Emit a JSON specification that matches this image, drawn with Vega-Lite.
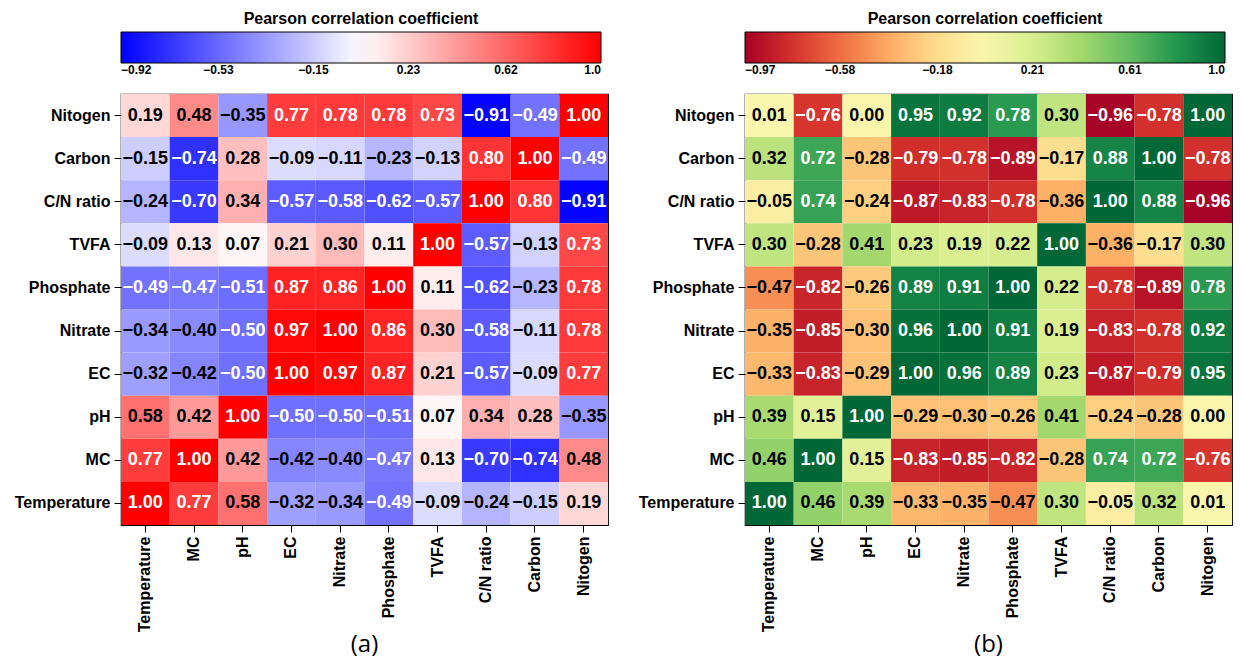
{
"$schema": "https://vega.github.io/schema/vega-lite/v6.json",
"background": "white",
"padding": {"left": 13, "top": 10, "right": 5, "bottom": 0},
"resolve": {"scale": {"color": "independent"}, "legend": {"color": "independent"}},
"config": {
  "font": "Liberation Sans",
  "view": {"stroke": "black", "strokeWidth": 1.2},
  "concat": {"spacing": 28},
  "axis": {"labelFont": "Liberation Sans", "labelFontSize": 16, "labelFontWeight": "bold", "labelColor": "black", "tickColor": "black", "tickSize": 7, "tickWidth": 1, "domain": false, "title": null, "labelPadding": 4},
  "legend": {"orient": "top", "direction": "horizontal", "gradientLength": 480, "gradientThickness": 31, "titleFont": "Liberation Sans", "titleFontSize": 16, "titleFontWeight": "bold", "titleColor": "black", "titleAnchor": "middle", "titlePadding": 5, "titleLimit": 600, "labelFont": "Liberation Sans", "labelFontSize": 12, "labelFontWeight": "bold", "labelColor": "black", "labelAlign": "center", "labelOffset": 18, "offset": 18, "gradientStrokeColor": "black", "gradientStrokeWidth": 1},
  "title": {"orient": "bottom", "anchor": "middle", "font": "Open Sans", "fontSize": 24, "fontWeight": "normal", "color": "black", "offset": 1}
},
"datasets": {
"a": [
{"y":"Nitogen","x":"Temperature","r":0.19},{"y":"Nitogen","x":"MC","r":0.48},{"y":"Nitogen","x":"pH","r":-0.35},{"y":"Nitogen","x":"EC","r":0.77},{"y":"Nitogen","x":"Nitrate","r":0.78},{"y":"Nitogen","x":"Phosphate","r":0.78},{"y":"Nitogen","x":"TVFA","r":0.73},{"y":"Nitogen","x":"C/N ratio","r":-0.91},{"y":"Nitogen","x":"Carbon","r":-0.49},{"y":"Nitogen","x":"Nitogen","r":1.00},
{"y":"Carbon","x":"Temperature","r":-0.15},{"y":"Carbon","x":"MC","r":-0.74},{"y":"Carbon","x":"pH","r":0.28},{"y":"Carbon","x":"EC","r":-0.09},{"y":"Carbon","x":"Nitrate","r":-0.11},{"y":"Carbon","x":"Phosphate","r":-0.23},{"y":"Carbon","x":"TVFA","r":-0.13},{"y":"Carbon","x":"C/N ratio","r":0.80},{"y":"Carbon","x":"Carbon","r":1.00},{"y":"Carbon","x":"Nitogen","r":-0.49},
{"y":"C/N ratio","x":"Temperature","r":-0.24},{"y":"C/N ratio","x":"MC","r":-0.70},{"y":"C/N ratio","x":"pH","r":0.34},{"y":"C/N ratio","x":"EC","r":-0.57},{"y":"C/N ratio","x":"Nitrate","r":-0.58},{"y":"C/N ratio","x":"Phosphate","r":-0.62},{"y":"C/N ratio","x":"TVFA","r":-0.57},{"y":"C/N ratio","x":"C/N ratio","r":1.00},{"y":"C/N ratio","x":"Carbon","r":0.80},{"y":"C/N ratio","x":"Nitogen","r":-0.91},
{"y":"TVFA","x":"Temperature","r":-0.09},{"y":"TVFA","x":"MC","r":0.13},{"y":"TVFA","x":"pH","r":0.07},{"y":"TVFA","x":"EC","r":0.21},{"y":"TVFA","x":"Nitrate","r":0.30},{"y":"TVFA","x":"Phosphate","r":0.11},{"y":"TVFA","x":"TVFA","r":1.00},{"y":"TVFA","x":"C/N ratio","r":-0.57},{"y":"TVFA","x":"Carbon","r":-0.13},{"y":"TVFA","x":"Nitogen","r":0.73},
{"y":"Phosphate","x":"Temperature","r":-0.49},{"y":"Phosphate","x":"MC","r":-0.47},{"y":"Phosphate","x":"pH","r":-0.51},{"y":"Phosphate","x":"EC","r":0.87},{"y":"Phosphate","x":"Nitrate","r":0.86},{"y":"Phosphate","x":"Phosphate","r":1.00},{"y":"Phosphate","x":"TVFA","r":0.11},{"y":"Phosphate","x":"C/N ratio","r":-0.62},{"y":"Phosphate","x":"Carbon","r":-0.23},{"y":"Phosphate","x":"Nitogen","r":0.78},
{"y":"Nitrate","x":"Temperature","r":-0.34},{"y":"Nitrate","x":"MC","r":-0.40},{"y":"Nitrate","x":"pH","r":-0.50},{"y":"Nitrate","x":"EC","r":0.97},{"y":"Nitrate","x":"Nitrate","r":1.00},{"y":"Nitrate","x":"Phosphate","r":0.86},{"y":"Nitrate","x":"TVFA","r":0.30},{"y":"Nitrate","x":"C/N ratio","r":-0.58},{"y":"Nitrate","x":"Carbon","r":-0.11},{"y":"Nitrate","x":"Nitogen","r":0.78},
{"y":"EC","x":"Temperature","r":-0.32},{"y":"EC","x":"MC","r":-0.42},{"y":"EC","x":"pH","r":-0.50},{"y":"EC","x":"EC","r":1.00},{"y":"EC","x":"Nitrate","r":0.97},{"y":"EC","x":"Phosphate","r":0.87},{"y":"EC","x":"TVFA","r":0.21},{"y":"EC","x":"C/N ratio","r":-0.57},{"y":"EC","x":"Carbon","r":-0.09},{"y":"EC","x":"Nitogen","r":0.77},
{"y":"pH","x":"Temperature","r":0.58},{"y":"pH","x":"MC","r":0.42},{"y":"pH","x":"pH","r":1.00},{"y":"pH","x":"EC","r":-0.50},{"y":"pH","x":"Nitrate","r":-0.50},{"y":"pH","x":"Phosphate","r":-0.51},{"y":"pH","x":"TVFA","r":0.07},{"y":"pH","x":"C/N ratio","r":0.34},{"y":"pH","x":"Carbon","r":0.28},{"y":"pH","x":"Nitogen","r":-0.35},
{"y":"MC","x":"Temperature","r":0.77},{"y":"MC","x":"MC","r":1.00},{"y":"MC","x":"pH","r":0.42},{"y":"MC","x":"EC","r":-0.42},{"y":"MC","x":"Nitrate","r":-0.40},{"y":"MC","x":"Phosphate","r":-0.47},{"y":"MC","x":"TVFA","r":0.13},{"y":"MC","x":"C/N ratio","r":-0.70},{"y":"MC","x":"Carbon","r":-0.74},{"y":"MC","x":"Nitogen","r":0.48},
{"y":"Temperature","x":"Temperature","r":1.00},{"y":"Temperature","x":"MC","r":0.77},{"y":"Temperature","x":"pH","r":0.58},{"y":"Temperature","x":"EC","r":-0.32},{"y":"Temperature","x":"Nitrate","r":-0.34},{"y":"Temperature","x":"Phosphate","r":-0.49},{"y":"Temperature","x":"TVFA","r":-0.09},{"y":"Temperature","x":"C/N ratio","r":-0.24},{"y":"Temperature","x":"Carbon","r":-0.15},{"y":"Temperature","x":"Nitogen","r":0.19}
],
"b": [
{"y":"Nitogen","x":"Temperature","r":0.01},{"y":"Nitogen","x":"MC","r":-0.76},{"y":"Nitogen","x":"pH","r":0.00},{"y":"Nitogen","x":"EC","r":0.95},{"y":"Nitogen","x":"Nitrate","r":0.92},{"y":"Nitogen","x":"Phosphate","r":0.78},{"y":"Nitogen","x":"TVFA","r":0.30},{"y":"Nitogen","x":"C/N ratio","r":-0.96},{"y":"Nitogen","x":"Carbon","r":-0.78},{"y":"Nitogen","x":"Nitogen","r":1.00},
{"y":"Carbon","x":"Temperature","r":0.32},{"y":"Carbon","x":"MC","r":0.72},{"y":"Carbon","x":"pH","r":-0.28},{"y":"Carbon","x":"EC","r":-0.79},{"y":"Carbon","x":"Nitrate","r":-0.78},{"y":"Carbon","x":"Phosphate","r":-0.89},{"y":"Carbon","x":"TVFA","r":-0.17},{"y":"Carbon","x":"C/N ratio","r":0.88},{"y":"Carbon","x":"Carbon","r":1.00},{"y":"Carbon","x":"Nitogen","r":-0.78},
{"y":"C/N ratio","x":"Temperature","r":-0.05},{"y":"C/N ratio","x":"MC","r":0.74},{"y":"C/N ratio","x":"pH","r":-0.24},{"y":"C/N ratio","x":"EC","r":-0.87},{"y":"C/N ratio","x":"Nitrate","r":-0.83},{"y":"C/N ratio","x":"Phosphate","r":-0.78},{"y":"C/N ratio","x":"TVFA","r":-0.36},{"y":"C/N ratio","x":"C/N ratio","r":1.00},{"y":"C/N ratio","x":"Carbon","r":0.88},{"y":"C/N ratio","x":"Nitogen","r":-0.96},
{"y":"TVFA","x":"Temperature","r":0.30},{"y":"TVFA","x":"MC","r":-0.28},{"y":"TVFA","x":"pH","r":0.41},{"y":"TVFA","x":"EC","r":0.23},{"y":"TVFA","x":"Nitrate","r":0.19},{"y":"TVFA","x":"Phosphate","r":0.22},{"y":"TVFA","x":"TVFA","r":1.00},{"y":"TVFA","x":"C/N ratio","r":-0.36},{"y":"TVFA","x":"Carbon","r":-0.17},{"y":"TVFA","x":"Nitogen","r":0.30},
{"y":"Phosphate","x":"Temperature","r":-0.47},{"y":"Phosphate","x":"MC","r":-0.82},{"y":"Phosphate","x":"pH","r":-0.26},{"y":"Phosphate","x":"EC","r":0.89},{"y":"Phosphate","x":"Nitrate","r":0.91},{"y":"Phosphate","x":"Phosphate","r":1.00},{"y":"Phosphate","x":"TVFA","r":0.22},{"y":"Phosphate","x":"C/N ratio","r":-0.78},{"y":"Phosphate","x":"Carbon","r":-0.89},{"y":"Phosphate","x":"Nitogen","r":0.78},
{"y":"Nitrate","x":"Temperature","r":-0.35},{"y":"Nitrate","x":"MC","r":-0.85},{"y":"Nitrate","x":"pH","r":-0.30},{"y":"Nitrate","x":"EC","r":0.96},{"y":"Nitrate","x":"Nitrate","r":1.00},{"y":"Nitrate","x":"Phosphate","r":0.91},{"y":"Nitrate","x":"TVFA","r":0.19},{"y":"Nitrate","x":"C/N ratio","r":-0.83},{"y":"Nitrate","x":"Carbon","r":-0.78},{"y":"Nitrate","x":"Nitogen","r":0.92},
{"y":"EC","x":"Temperature","r":-0.33},{"y":"EC","x":"MC","r":-0.83},{"y":"EC","x":"pH","r":-0.29},{"y":"EC","x":"EC","r":1.00},{"y":"EC","x":"Nitrate","r":0.96},{"y":"EC","x":"Phosphate","r":0.89},{"y":"EC","x":"TVFA","r":0.23},{"y":"EC","x":"C/N ratio","r":-0.87},{"y":"EC","x":"Carbon","r":-0.79},{"y":"EC","x":"Nitogen","r":0.95},
{"y":"pH","x":"Temperature","r":0.39},{"y":"pH","x":"MC","r":0.15},{"y":"pH","x":"pH","r":1.00},{"y":"pH","x":"EC","r":-0.29},{"y":"pH","x":"Nitrate","r":-0.30},{"y":"pH","x":"Phosphate","r":-0.26},{"y":"pH","x":"TVFA","r":0.41},{"y":"pH","x":"C/N ratio","r":-0.24},{"y":"pH","x":"Carbon","r":-0.28},{"y":"pH","x":"Nitogen","r":0.00},
{"y":"MC","x":"Temperature","r":0.46},{"y":"MC","x":"MC","r":1.00},{"y":"MC","x":"pH","r":0.15},{"y":"MC","x":"EC","r":-0.83},{"y":"MC","x":"Nitrate","r":-0.85},{"y":"MC","x":"Phosphate","r":-0.82},{"y":"MC","x":"TVFA","r":-0.28},{"y":"MC","x":"C/N ratio","r":0.74},{"y":"MC","x":"Carbon","r":0.72},{"y":"MC","x":"Nitogen","r":-0.76},
{"y":"Temperature","x":"Temperature","r":1.00},{"y":"Temperature","x":"MC","r":0.46},{"y":"Temperature","x":"pH","r":0.39},{"y":"Temperature","x":"EC","r":-0.33},{"y":"Temperature","x":"Nitrate","r":-0.35},{"y":"Temperature","x":"Phosphate","r":-0.47},{"y":"Temperature","x":"TVFA","r":0.30},{"y":"Temperature","x":"C/N ratio","r":-0.05},{"y":"Temperature","x":"Carbon","r":0.32},{"y":"Temperature","x":"Nitogen","r":0.01}
]
},
"hconcat": [
{
  "width": 487, "height": 431,
  "data": {"name": "a"},
  "title": {"text": "(a)"},
  "encoding": {
    "x": {"field": "x", "type": "nominal", "sort": ["Temperature","MC","pH","EC","Nitrate","Phosphate","TVFA","C/N ratio","Carbon","Nitogen"], "axis": {"labelAngle": -90, "title": null}},
    "y": {"field": "y", "type": "nominal", "sort": ["Nitogen","Carbon","C/N ratio","TVFA","Phosphate","Nitrate","EC","pH","MC","Temperature"], "axis": {"title": null}}
  },
  "layer": [
    {"mark": {"type": "rect"},
     "encoding": {"color": {"field": "r", "type": "quantitative",
        "scale": {"domain": [-0.92, 1.0], "range": ["#0000ff", "#ffffff", "#ff0000"], "interpolate": "rgb", "nice": false, "zero": false},
        "legend": {"title": "Pearson correlation coefficient", "values": [-0.92, -0.53, -0.15, 0.23, 0.62, 1.0], "labelExpr": "datum.value >= 0.999 ? '1.0' : format(datum.value, '.2f')"}}}},
    {"mark": {"type": "text", "fontSize": 18, "fontWeight": "bold", "font": "Liberation Sans"},
     "encoding": {"text": {"field": "r", "type": "quantitative", "format": ".2f"},
        "color": {"condition": {"test": "datum.r >= 0.65 || datum.r <= -0.45", "value": "white"}, "value": "black"}}}
  ]
},
{
  "width": 487, "height": 431,
  "data": {"name": "b"},
  "title": {"text": "(b)"},
  "encoding": {
    "x": {"field": "x", "type": "nominal", "sort": ["Temperature","MC","pH","EC","Nitrate","Phosphate","TVFA","C/N ratio","Carbon","Nitogen"], "axis": {"labelAngle": -90, "title": null}},
    "y": {"field": "y", "type": "nominal", "sort": ["Nitogen","Carbon","C/N ratio","TVFA","Phosphate","Nitrate","EC","pH","MC","Temperature"], "axis": {"title": null}}
  },
  "layer": [
    {"mark": {"type": "rect"},
     "encoding": {"color": {"field": "r", "type": "quantitative",
        "scale": {"domain": [-0.97, 1.0], "scheme": "redyellowgreen", "nice": false, "zero": false},
        "legend": {"title": "Pearson correlation coefficient", "values": [-0.97, -0.58, -0.18, 0.21, 0.61, 1.0], "labelExpr": "datum.value >= 0.999 ? '1.0' : format(datum.value, '.2f')"}}}},
    {"mark": {"type": "text", "fontSize": 18, "fontWeight": "bold", "font": "Liberation Sans"},
     "encoding": {"text": {"field": "r", "type": "quantitative", "format": ".2f"},
        "color": {"condition": {"test": "datum.r >= 0.7 || datum.r <= -0.7", "value": "white"}, "value": "black"}}}
  ]
}
]
}
